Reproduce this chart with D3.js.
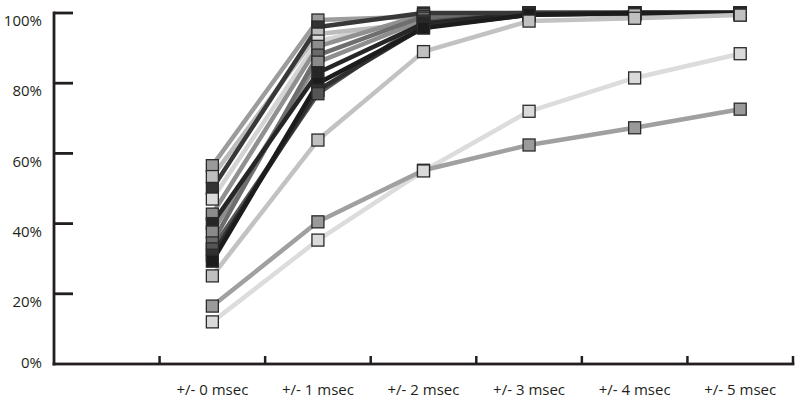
<!DOCTYPE html>
<html>
<head>
<meta charset="utf-8">
<script src="https://cdn.jsdelivr.net/npm/d3@7"></script>
<style>
  html, body { margin: 0; padding: 0; background: #fff; }
  svg { display: block; }
  text { font-family: "Open Sans", "Noto Sans", sans-serif; fill: #231f20; }
</style>
</head>
<body>
<svg id="chart" width="800" height="403"></svg>
<script>
// ---- data ----
const categories = ["+/- 0 msec", "+/- 1 msec", "+/- 2 msec", "+/- 3 msec", "+/- 4 msec", "+/- 5 msec"];
const yTickValues = [0, 20, 40, 60, 80, 100];

const sA = [56.5, 98.0, 99.0, 100, 100, 100];
const sB = [50.0, 96.0, 100, 100, 100, 100];
const sC = [53.4, 94.0, 97.2, 99.5, 99.5, 99.5];
const sD = [47.0, 92.0, 98.5, 99.5, 99.5, 99.5];
const sE = [42.7, 90.5, 99.5, 100, 100, 100];
const sF = [34.5, 88.0, 99.0, 100, 100, 100];
const sG = [37.6, 86.0, 98.0, 99.5, 100, 100];
const sH = [40.0, 83.0, 97.0, 100, 100, 100];
const sI = [29.3, 80.0, 95.7, 99.5, 100, 100];
const sJ = [31.0, 78.0, 96.0, 99.5, 100, 100];
const sK = [32.8, 77.0, 97.5, 100, 100, 100];
const sL = [25.1, 63.8, 89.0, 97.7, 98.5, 99.4];
const sM = [16.5, 40.5, 55.2, 62.4, 67.3, 72.6];
const sN = [12.0, 35.3, 55.0, 72.0, 81.5, 88.4];

const seriesValues = [sD, sC, sA, sG, sE, sF, sK, sH, sB, sJ, sI, sN, sM, sL];
// ---- style (parallel to seriesValues) ----
const markerFills = ["#dcdcdc", "#bdbdbd", "#9a9a9a", "#8a8a8a", "#8c8c8c", "#6a6a6a", "#555555", "#262626", "#333333", "#303030", "#1c1c1c", "#dadada", "#9a9a9a", "#c0c0c0"];
const lineColors  = ["#d4d4d4", "#bcbcbc", "#9c9c9c", "#8e8e8e", "#909090", "#6e6e6e", "#585858", "#262626", "#383838", "#303030", "#1c1c1c", "#dcdcdc", "#a0a0a0", "#c2c2c2"];

// ---- layout ----
const axisX = 54, axisRight = 793, yTop = 13, yBottom = 364;
const step = (axisRight - axisX) / (categories.length + 1);

const svg = d3.select("#chart");

const x = d3.scaleBand()
  .domain(categories)
  .range([axisX + step, axisRight])
  .paddingInner(0).paddingOuter(0);
const cx = c => x(c) + x.bandwidth() / 2;

const y = d3.scaleLinear().domain([0, 100]).range([yBottom, yTop]);

// ---- lines ----
const line = d3.line()
  .x((d, i) => cx(categories[i]))
  .y(d => y(d));

svg.append("g").selectAll("path")
  .data(seriesValues)
  .join("path")
  .attr("d", d => line(d))
  .attr("fill", "none")
  .attr("stroke", (d, i) => lineColors[i])
  .attr("stroke-width", 4.5)
  .attr("stroke-linejoin", "round");

// ---- markers (per column, higher values first so lower ones sit on top) ----
const pts = [];
seriesValues.forEach((vals, si) => vals.forEach((v, ci) => pts.push({ si, ci, v })));
pts.sort((a, b) => a.ci - b.ci || b.v - a.v);

const ms = 12;
svg.append("g").selectAll("rect")
  .data(pts)
  .join("rect")
  .attr("x", d => cx(categories[d.ci]) - ms / 2)
  .attr("y", d => y(d.v) - ms / 2)
  .attr("width", ms)
  .attr("height", ms)
  .attr("fill", d => markerFills[d.si])
  .attr("stroke", "#2a2a2a")
  .attr("stroke-width", 1.3);

// ---- y axis: inward tick marks ----
svg.append("g").attr("class", "y-ticks").selectAll("rect")
  .data(yTickValues.filter(d => d > 0))
  .join("rect")
  .attr("x", axisX)
  .attr("y", d => y(d) - 1.4)
  .attr("width", 19)
  .attr("height", 2.8)
  .attr("fill", "#231f20");

// ---- y axis: labels ----
const yAxis = d3.axisLeft(y)
  .tickValues(yTickValues)
  .tickSize(0)
  .tickPadding(12)
  .tickFormat(d => d + "%");
const gy = svg.append("g").attr("transform", `translate(${axisX},0)`).call(yAxis);
gy.select(".domain").remove();
gy.selectAll("text")
  .attr("font-size", 15)
  .attr("font-family", null)
  .attr("fill", "#231f20")
  .attr("dy", d => d === 0 ? "0.25em" : "0.85em");

svg.append("rect")
  .attr("x", axisX - 1.4).attr("y", y(100) - 1.4)
  .attr("width", 2.8).attr("height", yBottom - y(100) + 2.8)
  .attr("fill", "#231f20");

// ---- x axis ----
svg.append("rect")
  .attr("x", axisX - 1.4).attr("y", yBottom - 1.4)
  .attr("width", axisRight + 1.4 - (axisX - 1.4)).attr("height", 2.8)
  .attr("fill", "#231f20");

const boundaries = categories.map(c => x(c)).concat([x(categories[categories.length - 1]) + x.bandwidth()]);
svg.append("g").selectAll("line")
  .data(boundaries)
  .join("line")
  .attr("x1", d => d).attr("x2", d => d)
  .attr("y1", yBottom).attr("y2", yBottom - 8)
  .attr("stroke", "#231f20").attr("stroke-width", 2.5);

const xAxis = d3.axisBottom(x).tickSize(0).tickPadding(0);
const gx = svg.append("g").attr("transform", `translate(0,${yBottom})`).call(xAxis);
gx.select(".domain").remove();
gx.selectAll("text")
  .attr("font-size", 15)
  .attr("font-family", null)
  .attr("fill", "#231f20")
  .attr("y", 31)
  .attr("dy", 0);
</script>
</body>
</html>
